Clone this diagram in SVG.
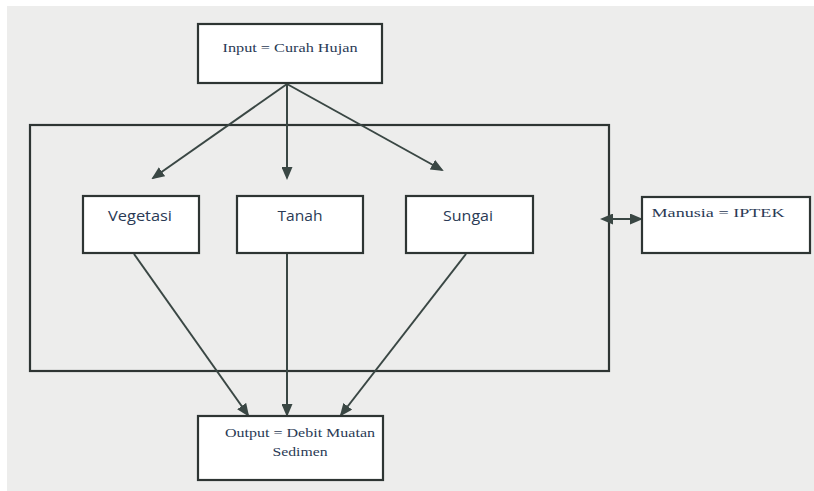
<svg xmlns="http://www.w3.org/2000/svg" width="814" height="491" viewBox="0 0 814 491">
<defs>
<style>
.box{fill:#ffffff;stroke:#2e3533;stroke-width:2.2}
.frame{fill:none;stroke:#2e3533;stroke-width:2.2}
.con{stroke:#3a4744;stroke-width:2;fill:none}
.serif{font-family:"Liberation Serif","Times New Roman",serif;font-size:13px;fill:#2a3a55;text-anchor:middle}
.sans{font-family:"Open Sans","Liberation Sans",sans-serif;font-size:14px;fill:#2a3a55;text-anchor:middle}
</style>
<marker id="ah" markerWidth="13" markerHeight="11" refX="11" refY="5.5" orient="auto" markerUnits="userSpaceOnUse">
<path d="M0,0 L13,5.5 L0,11 Z" fill="#3a4744"/>
</marker>
<marker id="ahs" markerWidth="13" markerHeight="11" refX="2" refY="5.5" orient="auto-start-reverse" markerUnits="userSpaceOnUse">
<path d="M0,0 L13,5.5 L0,11 Z" fill="#3a4744"/>
</marker>
</defs>
<rect x="0" y="0" width="814" height="491" fill="#ffffff"/>
<rect x="7" y="6" width="807" height="485" fill="#ededec"/>
<rect class="frame" x="30" y="125" width="579" height="246"/>
<g id="connectors">
<line class="con" x1="287" y1="84" x2="153" y2="178" marker-end="url(#ah)"/>
<line class="con" x1="287" y1="84" x2="287" y2="178" marker-end="url(#ah)"/>
<line class="con" x1="287" y1="84" x2="442" y2="170" marker-end="url(#ah)"/>
<line class="con" x1="134" y1="254" x2="248" y2="415" marker-end="url(#ah)"/>
<line class="con" x1="287" y1="254" x2="287" y2="415" marker-end="url(#ah)"/>
<line class="con" x1="466" y1="254" x2="341" y2="415" marker-end="url(#ah)"/>
<line class="con" x1="611" y1="219" x2="641" y2="219" marker-start="url(#ahs)" marker-end="url(#ah)"/>
</g>
<g id="input">
<rect class="box" x="198" y="24" width="184" height="59"/>
<text class="serif" x="290" y="52" textLength="135" lengthAdjust="spacingAndGlyphs">Input = Curah Hujan</text>
</g>
<g id="vegetasi">
<rect class="box" x="83" y="196" width="116" height="57"/>
<text class="sans" x="140" y="221" textLength="64" lengthAdjust="spacingAndGlyphs">Vegetasi</text>
</g>
<g id="tanah">
<rect class="box" x="237" y="196" width="126" height="57"/>
<text class="sans" x="300" y="221" textLength="45" lengthAdjust="spacingAndGlyphs">Tanah</text>
</g>
<g id="sungai">
<rect class="box" x="406" y="196" width="127" height="57"/>
<text class="sans" x="468" y="221" textLength="50" lengthAdjust="spacingAndGlyphs">Sungai</text>
</g>
<g id="manusia">
<rect class="box" x="642" y="197" width="168" height="56"/>
<text class="serif" x="718" y="217" textLength="133" lengthAdjust="spacingAndGlyphs">Manusia = IPTEK</text>
</g>
<g id="output">
<rect class="box" x="198" y="416" width="185" height="64"/>
<text class="serif" x="300" y="437" textLength="150" lengthAdjust="spacingAndGlyphs">Output = Debit Muatan</text>
<text class="serif" x="300" y="456" textLength="55" lengthAdjust="spacingAndGlyphs">Sedimen</text>
</g>
</svg>
